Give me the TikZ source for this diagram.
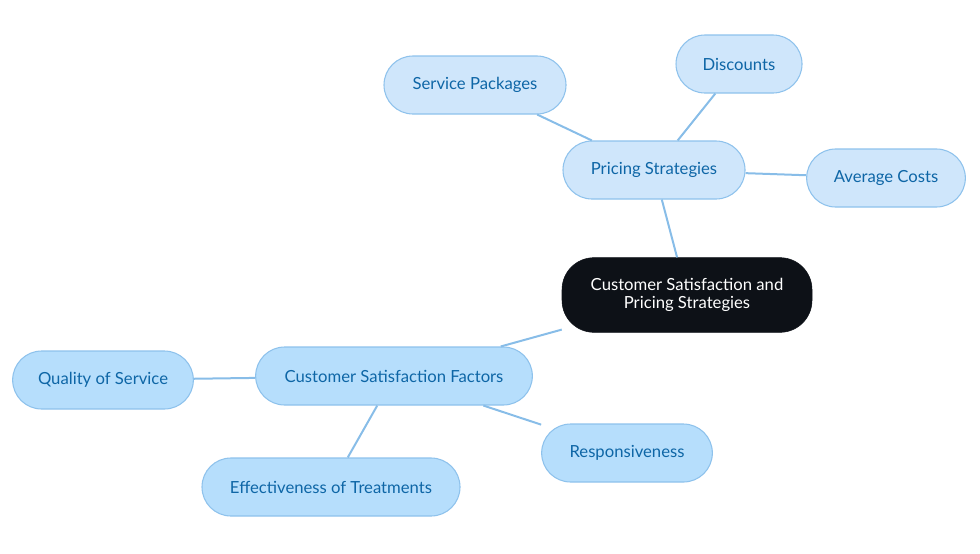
\documentclass[tikz,border=0pt]{standalone}
\usepackage{fontspec}
\setmainfont{Lato}
\definecolor{rootfill}{HTML}{0D1117}
\definecolor{pricefill}{HTML}{CFE6FB}
\definecolor{satfill}{HTML}{B6DEFC}
\definecolor{nodeline}{HTML}{8EC2EC}
\definecolor{nodetext}{HTML}{0E66A6}
\definecolor{edgeblue}{HTML}{88BDE8}
\begin{document}
\begin{tikzpicture}[x=0.75pt, y=-0.75pt]
  \tikzstyle{topic} = [rectangle, draw=nodeline, line width=0.8pt, text=nodetext, font=\fontsize{12.5}{14}\selectfont, minimum height=43.5pt, rounded corners=21.7pt, inner sep=2pt]
  \tikzstyle{pricenode} = [topic, fill=pricefill]
  \tikzstyle{satnode} = [topic, fill=satfill]
  \tikzstyle{rootnode} = [rectangle, draw=rootfill, fill=rootfill, text=white, font=\fontsize{12.5}{13}\selectfont, align=center, minimum width=187.5pt, minimum height=56pt, rounded corners=24pt]
  \tikzstyle{link} = [draw=edgeblue, line width=1.5pt]

  \useasboundingbox (0,0) rectangle (980,553);

  \node [rootnode] (root) at (687,295) {Customer Satisfaction and\\Pricing Strategies};

  \node [pricenode, minimum width=136.5pt] (pricing) at (654,170) {Pricing Strategies};
  \node [pricenode, minimum width=94.5pt] (discounts) at (739,64) {Discounts};
  \node [pricenode, minimum width=136.5pt] (packages) at (475,85) {Service Packages};
  \node [pricenode, minimum width=119pt] (costs) at (886,178) {Average Costs};

  \node [satnode, minimum width=207.5pt] (factors) at (394,376) {Customer Satisfaction Factors};
  \node [satnode, minimum width=135.5pt] (quality) at (103,380) {Quality of Service};
  \node [satnode, minimum width=193.5pt] (treatments) at (331,487) {Effectiveness of Treatments};
  \node [satnode, minimum width=128pt] (respons) at (627,453) {Responsiveness};

  \path [link] (root) -- (pricing);
  \path [link] (pricing) -- (discounts);
  \path [link] (pricing) -- (packages);
  \path [link] (pricing) -- (costs);
  \path [link] (root) -- (factors);
  \path [link] (factors) -- (quality);
  \path [link] (factors) -- (treatments);
  \path [link] (factors) -- (respons);
\end{tikzpicture}
\end{document}
